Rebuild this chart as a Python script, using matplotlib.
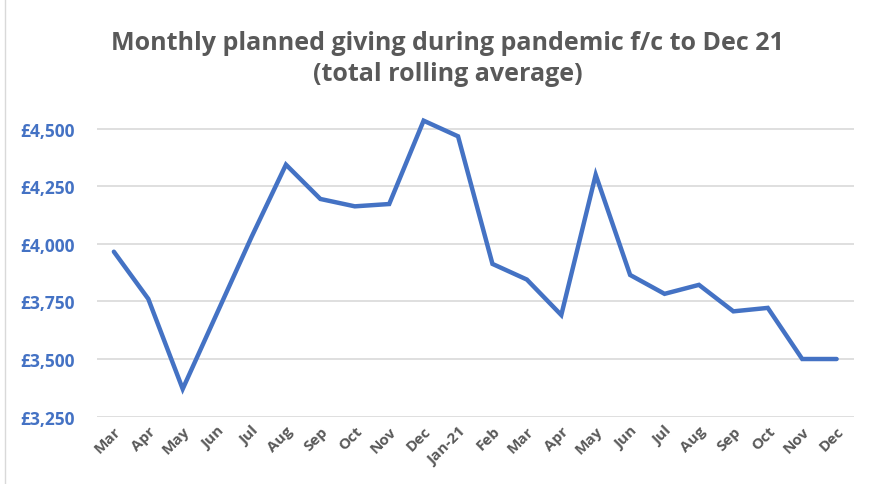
import matplotlib.pyplot as plt
from matplotlib.ticker import FuncFormatter
from matplotlib.lines import Line2D

months = ["Mar", "Apr", "May", "Jun", "Jul", "Aug", "Sep", "Oct", "Nov", "Dec", "Jan-21",
          "Feb", "Mar", "Apr", "May", "Jun", "Jul", "Aug", "Sep", "Oct", "Nov", "Dec"]
giving = [3966, 3761, 3370, 3700, 4030, 4344, 4195, 4163, 4173, 4535, 4467,
          3913, 3845, 3691, 4300, 3865, 3783, 3822, 3707, 3722, 3500, 3500]
yticks = [3250, 3500, 3750, 4000, 4250, 4500]

blue = "#4472C4"
plt.rcParams['font.family'] = ['Open Sans', 'DejaVu Sans']

fig = plt.figure(figsize=(8.95, 4.85), dpi=100)
ax = fig.add_axes([0.108, 0.139, 0.846, 0.641])

x = list(range(len(months)))
ax.plot(x, giving, color=blue, linewidth=3.2, solid_joinstyle='miter', solid_capstyle='round')

ax.set_xlim(-0.5, len(months) - 0.5)
ax.set_ylim(3250, 4600)
ax.set_yticks(yticks)
ax.yaxis.set_major_formatter(FuncFormatter(lambda v, p: f"£{v:,.0f}"))
ax.set_xticks(x)
ax.set_xticklabels(months, rotation=45, ha='right', rotation_mode='anchor')

ax.grid(axis='y', color='#D9D9D9', linewidth=1.2)
ax.set_axisbelow(True)
for s in ax.spines.values():
    s.set_visible(False)
ax.tick_params(length=0)
ax.tick_params(axis='y', labelcolor=blue, labelsize=12.5, pad=16)
ax.tick_params(axis='x', labelcolor='#595959', labelsize=11, pad=5)
for t in ax.get_yticklabels():
    t.set_fontweight('bold')
for t in ax.get_xticklabels():
    t.set_fontweight('bold')

fig.text(0.5, 0.878, "Monthly planned giving during pandemic f/c to Dec 21\n(total rolling average)",
         ha='center', va='center', fontsize=18, fontweight='bold', color='#595959', linespacing=1.35)

fig.add_artist(Line2D([0.006, 0.006], [0, 1], transform=fig.transFigure, color='#D9D9D9', linewidth=1))

fig.savefig("out.png", dpi=100)
